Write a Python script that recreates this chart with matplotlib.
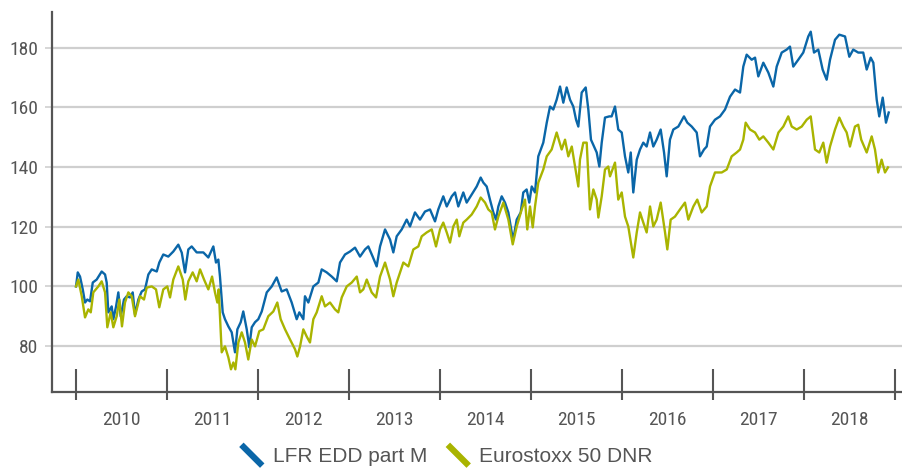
import matplotlib
matplotlib.use("Agg")
import matplotlib.pyplot as plt
from matplotlib.lines import Line2D
from matplotlib.legend_handler import HandlerBase
from matplotlib import font_manager

# ---------------- data (decimal years, index values) ----------------
lfr_years = [
    2010.000, 2010.019, 2010.044, 2010.074, 2010.099, 2010.124, 2010.154, 2010.184, 2010.227, 2010.282,
    2010.319, 2010.337, 2010.355, 2010.392, 2010.410, 2010.440, 2010.465, 2010.491, 2010.527, 2010.557,
    2010.593, 2010.623, 2010.648, 2010.685, 2010.722, 2010.758, 2010.795, 2010.832, 2010.887, 2010.915,
    2010.959, 2011.014, 2011.069, 2011.124, 2011.162, 2011.198, 2011.234, 2011.271, 2011.326, 2011.399,
    2011.454, 2011.509, 2011.538, 2011.564, 2011.582, 2011.612, 2011.637, 2011.674, 2011.711, 2011.747,
    2011.773, 2011.810, 2011.838, 2011.876, 2011.904, 2011.931, 2011.967, 2012.003, 2012.041, 2012.096,
    2012.151, 2012.205, 2012.260, 2012.315, 2012.370, 2012.425, 2012.454, 2012.498, 2012.516, 2012.553,
    2012.608, 2012.663, 2012.700, 2012.755, 2012.810, 2012.865, 2012.901, 2012.956, 2013.011, 2013.066,
    2013.121, 2013.176, 2013.212, 2013.260, 2013.304, 2013.341, 2013.396, 2013.451, 2013.487, 2013.524,
    2013.579, 2013.634, 2013.670, 2013.725, 2013.780, 2013.835, 2013.890, 2013.945, 2013.981, 2014.036,
    2014.074, 2014.129, 2014.165, 2014.201, 2014.256, 2014.293, 2014.348, 2014.403, 2014.447, 2014.476,
    2014.513, 2014.549, 2014.586, 2014.615, 2014.641, 2014.678, 2014.714, 2014.751, 2014.788, 2014.805,
    2014.843, 2014.887, 2014.915, 2014.952, 2014.981, 2015.008, 2015.044, 2015.080, 2015.135, 2015.173,
    2015.209, 2015.245, 2015.282, 2015.319, 2015.355, 2015.392, 2015.429, 2015.465, 2015.495, 2015.520,
    2015.557, 2015.601, 2015.630, 2015.659, 2015.692, 2015.722, 2015.751, 2015.777, 2015.813, 2015.860,
    2015.886, 2015.923, 2015.959, 2015.997, 2016.033, 2016.069, 2016.096, 2016.124, 2016.162, 2016.198,
    2016.234, 2016.271, 2016.308, 2016.344, 2016.381, 2016.425, 2016.462, 2016.491, 2016.527, 2016.564,
    2016.619, 2016.681, 2016.718, 2016.766, 2016.821, 2016.857, 2016.901, 2016.931, 2016.967, 2017.022,
    2017.077, 2017.132, 2017.187, 2017.242, 2017.297, 2017.333, 2017.370, 2017.425, 2017.462, 2017.498,
    2017.553, 2017.608, 2017.663, 2017.700, 2017.755, 2017.810, 2017.846, 2017.882, 2017.937, 2017.992,
    2018.047, 2018.074, 2018.110, 2018.157, 2018.205, 2018.249, 2018.286, 2018.341, 2018.388, 2018.451,
    2018.498, 2018.541, 2018.596, 2018.651, 2018.689, 2018.733, 2018.762, 2018.799, 2018.827, 2018.865,
    2018.901, 2018.931,
]
lfr_values = [
    100.0, 104.7, 103.3, 99.0, 94.6, 95.6, 95.0, 101.3, 102.3, 105.0,
    104.0, 101.3, 91.3, 93.3, 89.0, 93.3, 98.0, 90.0, 95.6, 96.7,
    96.3, 98.0, 90.6, 95.6, 98.3, 99.0, 104.0, 105.7, 105.0, 108.0,
    110.7, 110.0, 111.7, 114.0, 111.3, 104.7, 112.4, 113.4, 111.4, 111.4,
    109.7, 113.4, 108.0, 109.0, 103.3, 91.3, 89.0, 86.6, 84.6, 77.9,
    85.6, 88.0, 91.6, 85.6, 79.6, 86.3, 88.0, 89.0, 91.6, 98.0,
    100.0, 103.0, 98.3, 99.0, 94.6, 89.0, 91.3, 89.0, 96.7, 94.6,
    100.0, 101.3, 105.7, 104.7, 103.3, 101.7, 108.0, 110.7, 111.7, 113.0,
    110.0, 112.4, 113.4, 110.0, 106.7, 113.4, 119.1, 115.7, 111.4, 116.8,
    119.1, 122.4, 120.1, 124.8, 122.4, 125.1, 125.8, 121.8, 125.8, 130.2,
    126.8, 130.2, 131.5, 126.8, 131.5, 128.1, 130.8, 133.5, 136.5, 134.8,
    133.5, 129.1, 124.8, 122.4, 126.8, 130.2, 128.1, 124.8, 118.1, 115.7,
    122.4, 124.8, 131.5, 132.5, 128.1, 133.5, 131.5, 143.6, 148.2, 154.9,
    160.3, 159.3, 162.6, 167.0, 161.6, 166.7, 162.6, 160.3, 155.9, 153.6,
    165.0, 166.7, 159.3, 149.2, 146.9, 144.9, 140.2, 148.2, 156.6, 157.0,
    157.0, 160.3, 152.6, 151.6, 143.6, 138.2, 144.9, 131.5, 142.5, 145.9,
    148.2, 146.9, 151.6, 146.9, 149.2, 152.6, 144.9, 136.9, 149.2, 152.6,
    153.6, 157.0, 154.9, 153.6, 151.6, 143.6, 145.9, 146.9, 153.6, 155.9,
    157.0, 159.3, 163.6, 166.0, 165.0, 173.7, 177.7, 176.0, 176.7, 170.4,
    175.0, 171.7, 167.0, 173.7, 178.4, 179.4, 180.4, 173.7, 176.0, 178.4,
    183.8, 185.4, 178.4, 179.4, 172.7, 169.3, 176.0, 182.7, 184.4, 183.8,
    177.0, 179.4, 178.4, 178.4, 172.7, 176.7, 175.0, 162.6, 157.0, 163.3,
    154.9, 158.3,
]

stoxx_years = [
    2010.000, 2010.025, 2010.063, 2010.099, 2010.135, 2010.162, 2010.190, 2010.245, 2010.282, 2010.319,
    2010.344, 2010.381, 2010.410, 2010.447, 2010.476, 2010.505, 2010.538, 2010.575, 2010.612, 2010.648,
    2010.703, 2010.747, 2010.777, 2010.832, 2010.879, 2010.915, 2010.959, 2011.003, 2011.033, 2011.069,
    2011.124, 2011.173, 2011.201, 2011.234, 2011.282, 2011.326, 2011.363, 2011.407, 2011.454, 2011.495,
    2011.527, 2011.553, 2011.568, 2011.601, 2011.637, 2011.674, 2011.703, 2011.729, 2011.751, 2011.784,
    2011.821, 2011.857, 2011.893, 2011.931, 2011.967, 2012.014, 2012.058, 2012.113, 2012.168, 2012.212,
    2012.249, 2012.297, 2012.352, 2012.407, 2012.432, 2012.462, 2012.498, 2012.535, 2012.571, 2012.608,
    2012.645, 2012.700, 2012.736, 2012.791, 2012.846, 2012.882, 2012.920, 2012.975, 2013.030, 2013.085,
    2013.121, 2013.157, 2013.195, 2013.249, 2013.297, 2013.341, 2013.396, 2013.451, 2013.487, 2013.524,
    2013.597, 2013.652, 2013.707, 2013.762, 2013.799, 2013.854, 2013.909, 2013.956, 2014.000, 2014.036,
    2014.074, 2014.110, 2014.146, 2014.184, 2014.212, 2014.256, 2014.293, 2014.348, 2014.403, 2014.447,
    2014.495, 2014.531, 2014.568, 2014.604, 2014.641, 2014.696, 2014.751, 2014.799, 2014.843, 2014.898,
    2014.934, 2014.959, 2014.989, 2015.019, 2015.044, 2015.080, 2015.135, 2015.173, 2015.227, 2015.282,
    2015.337, 2015.374, 2015.410, 2015.448, 2015.484, 2015.520, 2015.538, 2015.575, 2015.612, 2015.648,
    2015.685, 2015.722, 2015.740, 2015.777, 2015.813, 2015.849, 2015.868, 2015.923, 2015.959, 2015.997,
    2016.033, 2016.069, 2016.124, 2016.162, 2016.198, 2016.234, 2016.271, 2016.308, 2016.344, 2016.381,
    2016.425, 2016.473, 2016.498, 2016.535, 2016.582, 2016.637, 2016.692, 2016.729, 2016.784, 2016.827,
    2016.876, 2016.931, 2016.967, 2017.022, 2017.096, 2017.151, 2017.205, 2017.260, 2017.297, 2017.333,
    2017.359, 2017.407, 2017.462, 2017.509, 2017.553, 2017.608, 2017.663, 2017.719, 2017.773, 2017.827,
    2017.865, 2017.920, 2017.975, 2018.030, 2018.074, 2018.121, 2018.168, 2018.212, 2018.249, 2018.286,
    2018.341, 2018.388, 2018.432, 2018.469, 2018.505, 2018.560, 2018.596, 2018.629, 2018.689, 2018.744,
    2018.780, 2018.816, 2018.853, 2018.890, 2018.923,
]
stoxx_values = [
    100.0, 102.3, 96.7, 89.6, 92.3, 91.3, 98.0, 100.0, 101.7, 98.0,
    86.3, 91.3, 86.3, 90.0, 95.6, 86.6, 94.6, 98.0, 96.7, 90.0,
    96.7, 95.6, 99.6, 100.0, 99.0, 93.0, 99.0, 100.0, 96.3, 102.3,
    106.7, 102.3, 95.6, 101.7, 104.7, 101.7, 105.7, 102.3, 99.0, 103.3,
    98.0, 94.6, 99.0, 77.9, 79.9, 76.2, 72.2, 74.5, 72.2, 81.2,
    84.6, 81.2, 75.5, 82.2, 79.9, 85.0, 85.6, 90.0, 91.6, 94.6,
    89.0, 85.6, 82.2, 78.9, 76.5, 79.9, 85.6, 83.2, 81.2, 89.0,
    91.3, 96.7, 93.3, 94.6, 92.3, 91.3, 96.3, 100.0, 101.3, 103.3,
    98.0, 99.0, 102.3, 98.0, 96.3, 103.3, 108.0, 102.3, 96.7, 101.3,
    108.0, 106.7, 112.4, 113.4, 116.8, 118.1, 119.1, 113.4, 119.1, 121.4,
    118.1, 114.7, 120.1, 122.4, 116.8, 121.4, 122.4, 124.1, 126.8, 129.8,
    128.1, 125.8, 124.8, 119.1, 123.4, 128.1, 122.4, 114.1, 120.1, 125.8,
    129.1, 119.1, 126.8, 119.8, 126.8, 134.8, 139.2, 143.6, 145.9, 151.6,
    145.9, 149.2, 143.6, 146.9, 140.2, 133.5, 142.5, 148.2, 148.2, 125.8,
    132.5, 129.1, 123.1, 130.2, 139.2, 140.2, 136.9, 141.5, 129.1, 131.5,
    123.4, 120.1, 109.7, 118.1, 124.8, 121.4, 118.1, 126.8, 120.1, 122.4,
    128.1, 118.1, 112.4, 122.4, 123.4, 125.8, 128.1, 122.4, 126.8, 129.1,
    124.8, 126.8, 133.5, 138.2, 138.2, 139.2, 143.6, 144.9, 145.9, 149.2,
    154.9, 152.6, 151.6, 149.2, 150.3, 148.2, 145.9, 151.6, 153.6, 157.0,
    153.6, 152.6, 153.6, 155.9, 157.0, 145.9, 144.9, 148.2, 141.5, 146.9,
    152.6, 156.6, 153.6, 151.6, 146.9, 153.6, 154.2, 149.2, 144.9, 150.3,
    145.9, 138.2, 142.5, 138.2, 139.9,
]

series_names = ["LFR EDD part M", "Eurostoxx 50 DNR"]
year_boundaries = list(range(2010, 2020))
year_labels = [str(y) for y in range(2010, 2019)]
y_ticks = [80, 100, 120, 140, 160, 180]

# ---------------- style ----------------
BLUE = "#0a66a8"
GREEN = "#a9b400"
AXIS = "#555555"
GRID = "#cfcfcf"
REGULAR = ["Liberation Sans", "DejaVu Sans"]


def font_available(name):
    try:
        font_manager.findfont(font_manager.FontProperties(family=name),
                              fallback_to_default=False)
        return True
    except Exception:
        return False


if font_available("Liberation Sans Narrow"):
    TICK_FAMILY, TICK_SIZE = ["Liberation Sans Narrow", "DejaVu Sans"], 14
elif font_available("Roboto Condensed"):
    TICK_FAMILY, TICK_SIZE = ["Roboto Condensed", "DejaVu Sans"], 14
else:
    TICK_FAMILY, TICK_SIZE = ["Roboto", "DejaVu Sans"], 12.5

fig = plt.figure(figsize=(9.03, 4.70), dpi=100)
ax = fig.add_axes([52 / 903, 78 / 470, 851 / 903, 380 / 470])

ax.plot(lfr_years, lfr_values, color=BLUE, lw=1.7, solid_joinstyle="round", zorder=3)
ax.plot(stoxx_years, stoxx_values, color=GREEN, lw=1.7, solid_joinstyle="round", zorder=3)

ax.set_xlim(2009.736, 2019.088)
ax.set_ylim(64.6, 192.0)

# spines
for s in ["top", "right"]:
    ax.spines[s].set_visible(False)
for s in ["left", "bottom"]:
    ax.spines[s].set_color(AXIS)
    ax.spines[s].set_linewidth(1.6)

# y axis
ax.set_yticks(y_ticks)
ax.yaxis.grid(True, color=GRID, lw=1.6, zorder=0)
ax.set_axisbelow(True)
ax.tick_params(axis="y", which="major", length=5, width=1.2, color=GRID,
               labelcolor=AXIS, labelsize=TICK_SIZE, pad=5)
for lab in ax.get_yticklabels():
    lab.set_family(TICK_FAMILY)

# x axis ticks (cross the axis line)
ax.xaxis.remove_overlapping_locs = False
ax.set_xticks(year_boundaries)
ax.set_xticks(year_boundaries, minor=True)
ax.tick_params(axis="x", which="major", direction="in", length=16.5, width=1.5,
               color=AXIS, labelbottom=False)
ax.tick_params(axis="x", which="minor", direction="out", length=6, width=1.5,
               color=AXIS, labelbottom=False)

# year labels centred between boundaries
sec = ax.secondary_xaxis("bottom")
sec.set_xticks([y + 0.5 for y in range(2010, 2019)], labels=year_labels)
sec.tick_params(length=0, pad=14, labelsize=TICK_SIZE, labelcolor=AXIS)
sec.spines["bottom"].set_visible(False)
for lab in sec.get_xticklabels():
    lab.set_family(TICK_FAMILY)


# legend with diagonal stroke handles
class DiagHandler(HandlerBase):
    def create_artists(self, legend, orig_handle, xdescent, ydescent,
                       width, height, fontsize, trans):
        cy = height / 2 - ydescent
        x0 = -xdescent
        line = Line2D([x0, x0 + width], [cy + width / 2, cy - width / 2],
                      color=orig_handle.get_color(), lw=4.5,
                      solid_capstyle="butt", transform=trans)
        return [line]


handles = [Line2D([], [], color=BLUE), Line2D([], [], color=GREEN)]
leg = fig.legend(handles, series_names, loc="center",
                 bbox_to_anchor=(447 / 903, 13 / 470), ncol=2, frameon=False,
                 handler_map={Line2D: DiagHandler()},
                 handlelength=1.0, handletextpad=0.5, columnspacing=1.0,
                 prop={"family": REGULAR, "size": 15})
for t in leg.get_texts():
    t.set_color(AXIS)

fig.savefig("out.png", dpi=100)
